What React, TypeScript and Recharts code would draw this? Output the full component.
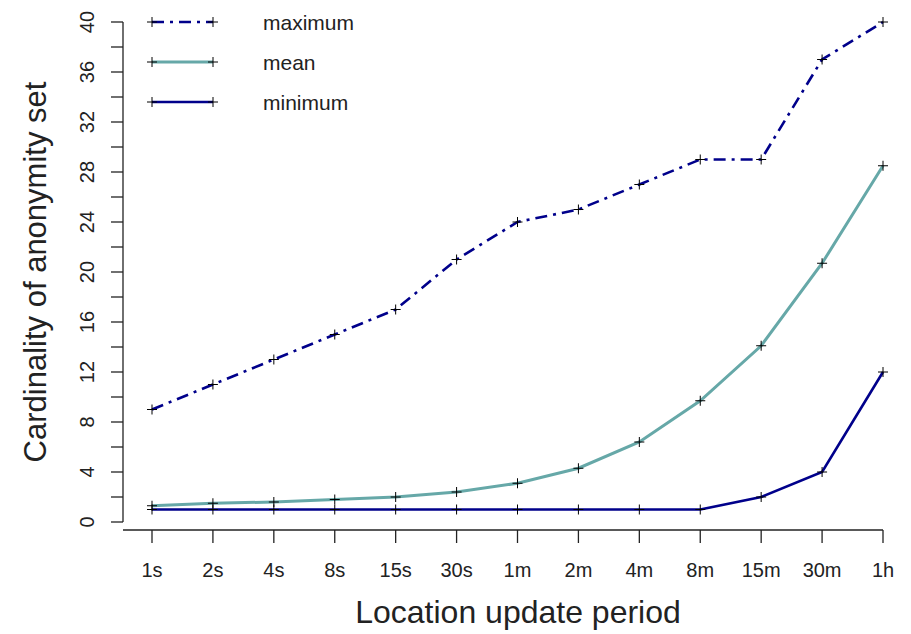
import React from 'react';
import { LineChart, Line, XAxis, YAxis, Legend, ReferenceLine, Label } from 'recharts';

const periods = ['1s', '2s', '4s', '8s', '15s', '30s', '1m', '2m', '4m', '8m', '15m', '30m', '1h'];
const maximum = [9, 11, 13, 15, 17, 21, 24, 25, 27, 29, 29, 37, 40];
const mean = [1.3, 1.5, 1.6, 1.8, 2.0, 2.4, 3.1, 4.3, 6.4, 9.7, 14.1, 20.7, 28.5];
const minimum = [1, 1, 1, 1, 1, 1, 1, 1, 1, 1, 2, 4, 12];
const yTicks = [0, 2, 4, 6, 8, 10, 12, 14, 16, 18, 20, 22, 24, 26, 28, 30, 32, 34, 36, 38, 40];

const data = periods.map((p, i) => ({ period: p, maximum: maximum[i], mean: mean[i], minimum: minimum[i] }));

const FONT = '"Liberation Sans", Arial, sans-serif';
const NAVY = '#00008B';
const TEAL = '#66A8A8';
const INK = '#222';

const series = [
  { key: 'maximum', color: NAVY, dash: '12 6 3 6', width: 2.6 },
  { key: 'mean', color: TEAL, dash: undefined, width: 3 },
  { key: 'minimum', color: NAVY, dash: undefined, width: 2.6 },
];

const Plus = (props: any) => {
  const { cx, cy } = props;
  if (cx == null || cy == null) return null;
  return (
    <g>
      <line x1={cx - 5} x2={cx + 5} y1={cy} y2={cy} stroke="#000" strokeWidth={1} />
      <line x1={cx} x2={cx} y1={cy - 5} y2={cy + 5} stroke="#000" strokeWidth={1} />
    </g>
  );
};

const XTick = (props: any) => {
  const { x, y, payload } = props;
  return (
    <g>
      <line x1={x} x2={x} y1={y + 8} y2={y + 21} stroke={INK} strokeWidth={1.3} />
      <text x={x} y={y + 55} textAnchor="middle" fontSize={20} fill={INK} fontFamily={FONT}>
        {payload.value}
      </text>
    </g>
  );
};

const YTick = (props: any) => {
  const { y, payload } = props;
  if (payload.value % 4 !== 0) return null;
  return (
    <text
      x={87}
      y={y}
      textAnchor="middle"
      dominantBaseline="central"
      fontSize={20}
      fill={INK}
      fontFamily={FONT}
      transform={`rotate(-90, 87, ${y})`}
    >
      {payload.value}
    </text>
  );
};

const LegendBox = () => (
  <svg width={260} height={120} style={{ display: 'block' }}>
    {series.map((s, i) => {
      const y = 10 + i * 40;
      return (
        <g key={s.key}>
          <line x1={12} x2={73} y1={y} y2={y} stroke={s.color} strokeWidth={s.width} strokeDasharray={s.dash} />
          <Plus cx={12} cy={y} />
          <Plus cx={73} cy={y} />
          <text x={123} y={y + 8} fontSize={21} fill={INK} fontFamily={FONT}>
            {s.key}
          </text>
        </g>
      );
    })}
  </svg>
);

export default function App() {
  return (
    <div style={{ position: 'absolute', left: 0, top: 0, background: '#fff' }}>
      <LineChart width={911} height={634} data={data} margin={{ top: 22, right: 28, left: 0, bottom: 52 }}>
        <XAxis
          dataKey="period"
          axisLine={false}
          tickLine={false}
          tickSize={0}
          tickMargin={0}
          tick={<XTick />}
          interval={0}
          padding={{ left: 29, right: 0 }}
          height={60}
        >
          <Label
            content={(p: any) => {
              const vb = p.viewBox;
              return (
                <text x={vb.x + vb.width / 2 + 15} y={vb.y + 101} textAnchor="middle" fontSize={32} fill={INK} fontFamily={FONT}>
                  Location update period
                </text>
              );
            }}
          />
        </XAxis>
        <YAxis
          type="number"
          domain={[0, 40]}
          ticks={yTicks}
          interval={0}
          width={123}
          tickSize={12}
          axisLine={{ stroke: INK, strokeWidth: 1.3 }}
          tickLine={{ stroke: INK, strokeWidth: 1.3 }}
          tick={<YTick />}
        >
          <Label
            content={() => (
              <text
                x={35}
                y={272}
                textAnchor="middle"
                dominantBaseline="central"
                fontSize={31}
                fill={INK}
                fontFamily={FONT}
                transform="rotate(-90, 35, 272)"
              >
                Cardinality of anonymity set
              </text>
            )}
          />
        </YAxis>
        <ReferenceLine y={-0.64} ifOverflow="visible" stroke={INK} strokeWidth={1.3} />
        <Legend
          layout="horizontal"
          verticalAlign="middle"
          align="center"
          content={<LegendBox />}
          wrapperStyle={{ position: 'absolute', left: 140, top: 12, width: 260 }}
        />
        {series.map((s) => (
          <Line
            key={s.key}
            type="linear"
            dataKey={s.key}
            stroke={s.color}
            strokeWidth={s.width}
            strokeDasharray={s.dash}
            dot={<Plus />}
            activeDot={false}
            isAnimationActive={false}
          />
        ))}
      </LineChart>
    </div>
  );
}
